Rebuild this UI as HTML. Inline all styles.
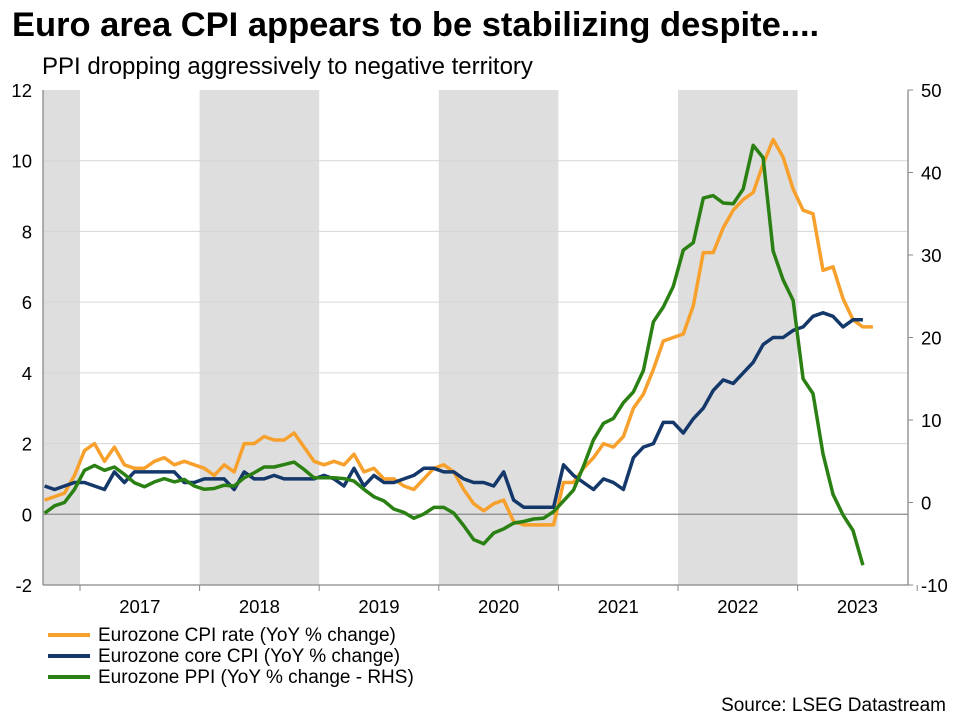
<!DOCTYPE html>
<html><head><meta charset="utf-8"><style>
body{margin:0;background:#fff;}
svg{display:block;font-family:"Liberation Sans",Arial,sans-serif;}
</style></head><body>
<svg id="chart" width="956" height="717" viewBox="0 0 956 717">
<text x="12" y="36" font-size="34.5" font-weight="bold" fill="#000">Euro area CPI appears to be stabilizing despite....</text>
<text x="42" y="74" font-size="24" fill="#000">PPI dropping aggressively to negative territory</text>
<g id="bands"></g><g id="grid"></g><g id="axes"></g><g id="series"></g>
<g>
<line x1="48" y1="635" x2="90" y2="635" stroke="#F7A02C" stroke-width="4"/>
<text x="98" y="641" font-size="19">Eurozone CPI rate (YoY % change)</text>
<line x1="48" y1="656" x2="90" y2="656" stroke="#14386A" stroke-width="4"/>
<text x="98" y="662" font-size="19">Eurozone core CPI (YoY % change)</text>
<line x1="48" y1="677" x2="90" y2="677" stroke="#2A8012" stroke-width="4"/>
<text x="98" y="683" font-size="19">Eurozone PPI (YoY % change - RHS)</text>
</g>
<text x="946" y="711" font-size="19" text-anchor="end">Source: LSEG Datastream</text>
</svg>
<script>
// Monthly data starting Sep 2016
const startMonth = -4; // months relative to Jan 2017
const cpi = [0.4,0.5,0.6,1.1,
 1.8,2.0,1.5,1.9,1.4,1.3,1.3,1.5,1.6,1.4,1.5,1.4,
 1.3,1.1,1.4,1.2,2.0,2.0,2.2,2.1,2.1,2.3,1.9,1.5,
 1.4,1.5,1.4,1.7,1.2,1.3,1.0,1.0,0.8,0.7,1.0,1.3,
 1.4,1.2,0.7,0.3,0.1,0.3,0.4,-0.2,-0.3,-0.3,-0.3,-0.3,
 0.9,0.9,1.3,1.6,2.0,1.9,2.2,3.0,3.4,4.1,4.9,5.0,
 5.1,5.9,7.4,7.4,8.1,8.6,8.9,9.1,9.9,10.6,10.1,9.2,
 8.6,8.5,6.9,7.0,6.1,5.5,5.3,5.3];
const core = [0.8,0.7,0.8,0.9,
 0.9,0.8,0.7,1.2,0.9,1.2,1.2,1.2,1.2,1.2,0.9,0.9,
 1.0,1.0,1.0,0.7,1.2,1.0,1.0,1.1,1.0,1.0,1.0,1.0,
 1.1,1.0,0.8,1.3,0.8,1.1,0.9,0.9,1.0,1.1,1.3,1.3,
 1.2,1.2,1.0,0.9,0.9,0.8,1.2,0.4,0.2,0.2,0.2,0.2,
 1.4,1.1,0.9,0.7,1.0,0.9,0.7,1.6,1.9,2.0,2.6,2.6,
 2.3,2.7,3.0,3.5,3.8,3.7,4.0,4.3,4.8,5.0,5.0,5.2,
 5.3,5.6,5.7,5.6,5.3,5.5,5.5];
const ppi = [-1.3,-0.4,0.0,1.6,
 3.9,4.5,3.9,4.3,3.4,2.4,1.9,2.5,2.9,2.5,2.8,2.0,
 1.6,1.7,2.1,2.0,3.0,3.6,4.3,4.3,4.6,4.9,4.0,3.0,
 3.0,3.0,2.9,2.6,1.6,0.7,0.2,-0.8,-1.2,-1.9,-1.4,-0.6,
 -0.6,-1.3,-2.8,-4.5,-5.0,-3.7,-3.2,-2.5,-2.3,-2.0,-1.9,-1.1,
 0.2,1.5,4.4,7.6,9.6,10.2,12.1,13.4,16.0,21.9,23.7,26.2,
 30.6,31.5,36.9,37.2,36.3,36.2,38.0,43.3,41.8,30.5,27.0,24.5,
 15.0,13.2,5.9,1.0,-1.5,-3.4,-7.6];
const leftTicks = [12,10,8,6,4,2,0,-2];
const rightTicks = [50,40,30,20,10,0,-10];
const years = [2017,2018,2019,2020,2021,2022,2023];
const shadedYears = [2016,2018,2020,2022];

const NS="http://www.w3.org/2000/svg";
const PL=43, PR=908, PT=90, PB=585;
const yL = v => PT + (12 - v) * (PB - PT) / 14;
const yR = v => PT + (50 - v) * (PB - PT) / 60;
const yearX = y => 80 + (y - 2017) * 119.6;
const xM = i => 80 + (startMonth + i + 0.45) * 9.98;
function mk(tag, attrs, parent){const e=document.createElementNS(NS,tag);for(const k in attrs)e.setAttribute(k,attrs[k]);parent.appendChild(e);return e;}
const bands=document.getElementById('bands'), grid=document.getElementById('grid'), axes=document.getElementById('axes'), series=document.getElementById('series');

shadedYears.forEach(y=>{
  const x0=Math.max(PL,yearX(y)), x1=Math.min(PR,yearX(y+1));
  const r=mk('rect',{x:x0,y:PT,width:x1-x0,height:PB-PT,fill:'#DEDEDE'},bands);
  
  
});
leftTicks.forEach(v=>{
  if(v!==12 && v!==-2){
    const l=mk('line',{x1:PL,x2:PR,y1:yL(v),y2:yL(v),stroke:v===0?'#8a8a8a':'#d6d6d6','stroke-width':v===0?1.3:1},grid);
    
    
  }
  const t=mk('text',{x:32,y:yL(v)+7,'font-size':18.5,'text-anchor':'end'},axes);
  t.textContent=v;
  
  
});
rightTicks.forEach(v=>{
  mk('line',{x1:PR,x2:PR+5,y1:yR(v),y2:yR(v),stroke:'#888'},axes);
  const t=mk('text',{x:921,y:yR(v)+7,'font-size':18.5},axes);
  t.textContent=v;
  
  
});
mk('line',{x1:PL,x2:PL,y1:PT,y2:PB,stroke:'#888','stroke-width':1.3},axes);
mk('line',{x1:PR,x2:PR,y1:PT,y2:PB,stroke:'#888','stroke-width':1.3},axes);
mk('line',{x1:PL,x2:PR,y1:PB,y2:PB,stroke:'#888','stroke-width':1.3},axes);
years.forEach(y=>{
  mk('line',{x1:yearX(y),x2:yearX(y),y1:PB,y2:PB+6,stroke:'#888'},axes);
  const t=mk('text',{x:yearX(y)+59.8,y:613,'font-size':18.5,'text-anchor':'middle'},axes);
  t.textContent=y;
  
  
});
mk('line',{x1:yearX(2024),x2:yearX(2024),y1:PB,y2:PB+6,stroke:'#888'},axes);

function line(data, yf, color, name){
  const pts=data.map((v,i)=>xM(i).toFixed(1)+','+yf(v).toFixed(1)).join(' ');
  const p=mk('polyline',{points:pts,fill:'none',stroke:color,'stroke-width':3.5,'stroke-linejoin':'round'},series);
  
  
}
line(cpi,yL,'#F7A02C','cpi-line');
line(core,yL,'#14386A','core-cpi-line');
line(ppi,yR,'#2A8012','ppi-line');
</script>
</body></html>
